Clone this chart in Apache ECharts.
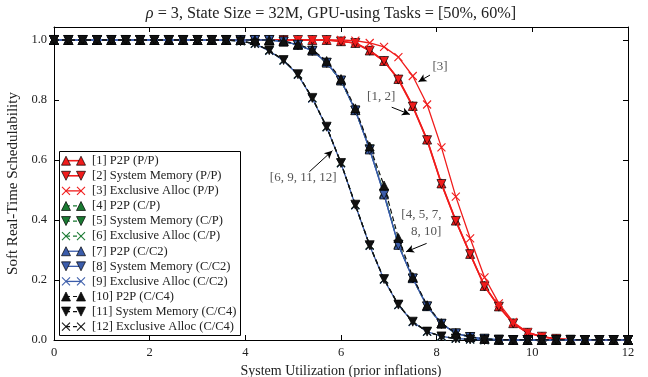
<!DOCTYPE html>
<html><head><meta charset="utf-8">
<script src="https://cdn.jsdelivr.net/npm/echarts@6/dist/echarts.min.js"></script>
<style>html,body{margin:0;padding:0;background:#fff}#c{width:648px;height:377px}</style>
</head><body><div id="c"></div>
<script>
// ---------- DATA ----------
const xValues = [0,0.3,0.6,0.9,1.2,1.5,1.8,2.1,2.4,2.7,
  3.0,3.3,3.6,3.9,4.2,4.5,4.8,5.1,5.4,5.7,
  6.0,6.3,6.6,6.9,7.2,7.5,7.8,8.1,8.4,8.7,
  9.0,9.3,9.6,9.9,10.2,10.5,10.8,11.1,11.4,11.7,
  12.0];

const seriesNames = ['[1] P2P (P/P)','[2] System Memory (P/P)','[3] Exclusive Alloc (P/P)',
  '[4] P2P (C/P)','[5] System Memory (C/P)','[6] Exclusive Alloc (C/P)',
  '[7] P2P (C/C2)','[8] System Memory (C/C2)','[9] Exclusive Alloc (C/C2)',
  '[10] P2P (C/C4)','[11] System Memory (C/C4)','[12] Exclusive Alloc (C/C4)'];

const s1 = [1,1,1,1,1,1,1,1,1,1, 1,1,1,1,1,1,1,1,1,1,
  0.996,0.99,0.965,0.93,0.87,0.78,0.668,0.522,0.398,0.287,
  0.18,0.112,0.056,0.024,0.011,0.004,0.001,0,0,0, 0];
const s2 = [1,1,1,1,1,1,1,1,1,1, 1,1,1,1,1,1,1,1,1,1,
  0.995,0.99,0.964,0.93,0.868,0.778,0.666,0.52,0.397,0.286,
  0.179,0.111,0.055,0.024,0.011,0.004,0.001,0,0,0, 0];
const s3 = [1,1,1,1,1,1,1,1,1,1, 1,1,1,1,1,1,1,1,1,1,
  1,0.998,0.99,0.977,0.943,0.88,0.785,0.642,0.478,0.339,
  0.209,0.122,0.06,0.026,0.011,0.004,0.001,0,0,0, 0];
const s4 = [1,1,1,1,1,1,1,1,1,1, 1,1,1,1,1,1,0.995,0.984,0.965,0.925,
  0.865,0.767,0.638,0.49,0.32,0.207,0.113,0.055,0.022,0.01,
  0.004,0.001,0,0,0,0,0,0,0,0, 0];
const s5 = [1,1,1,1,1,1,1,1,1,1, 1,1,1,1,1,1,0.995,0.983,0.964,0.924,
  0.864,0.765,0.636,0.488,0.318,0.205,0.112,0.054,0.022,0.01,
  0.004,0.001,0,0,0,0,0,0,0,0, 0];
const s6 = [1,1,1,1,1,1,1,1,1,1, 1,1,1,0.996,0.988,0.965,0.932,0.885,0.806,0.71,
  0.59,0.45,0.315,0.202,0.117,0.061,0.028,0.012,0.005,0.002,
  0,0,0,0,0,0,0,0,0,0, 0];
const s7 = [1,1,1,1,1,1,1,1,1,1, 1,1,1,1,1,1,0.995,0.984,0.965,0.925,
  0.866,0.766,0.635,0.485,0.317,0.206,0.113,0.055,0.022,0.01,
  0.004,0.001,0,0,0,0,0,0,0,0, 0];
const s8 = [1,1,1,1,1,1,1,1,1,1, 1,1,1,1,1,1,0.995,0.984,0.964,0.924,
  0.865,0.765,0.634,0.484,0.316,0.205,0.112,0.054,0.022,0.01,
  0.004,0.001,0,0,0,0,0,0,0,0, 0];
const s9 = [1,1,1,1,1,1,1,1,1,1, 1,1,1,0.996,0.987,0.964,0.931,0.884,0.805,0.709,
  0.589,0.449,0.314,0.201,0.116,0.06,0.028,0.012,0.005,0.002,
  0,0,0,0,0,0,0,0,0,0, 0];
const s10 = [1,1,1,1,1,1,1,1,1,1, 1,1,1,1,1,1,0.996,0.986,0.968,0.93,
  0.87,0.772,0.645,0.515,0.34,0.21,0.116,0.056,0.023,0.011,
  0.004,0.001,0,0,0,0,0,0,0,0, 0];
const s11 = [1,1,1,1,1,1,1,1,1,1, 1,1,1,0.996,0.988,0.966,0.933,0.886,0.807,0.711,
  0.59,0.451,0.316,0.203,0.118,0.061,0.028,0.012,0.005,0.002,
  0,0,0,0,0,0,0,0,0,0, 0];
const s12 = [1,1,1,1,1,1,1,1,1,1, 1,1,1,0.996,0.988,0.965,0.932,0.885,0.806,0.71,
  0.59,0.45,0.315,0.202,0.117,0.061,0.028,0.012,0.005,0.002,
  0,0,0,0,0,0,0,0,0,0, 0];

const xTickValues = [0,2,4,6,8,10,12];
const yTickValues = [0,0.2,0.4,0.6,0.8,1.0];

// annotations (data coordinates)
const annoTexts = ['[3]','[1, 2]','[6, 9, 11, 12]','[4, 5, 7,','8, 10]'];
const annoTextAt = [[8.07,0.91],[6.84,0.813],[5.21,0.543],[7.68,0.417],[7.78,0.36]];
const annoArrowFrom = [[7.86,0.883],[7.06,0.776],[5.34,0.561],[7.79,0.322]];
const annoArrowTo = [[7.62,0.861],[7.44,0.752],[5.82,0.631],[7.36,0.294]];

// ---------- STYLE ----------
const allData = [s1,s2,s3,s4,s5,s6,s7,s8,s9,s10,s11,s12];
const RED='#f01c1c', GREEN='#1a7a32', BLUE='#3b5caa', BLACK='#111111';
const styleDefs = [
  {c:RED,m:'up',d:'solid',w:1.6},{c:RED,m:'down',d:'solid',w:1.6},{c:RED,m:'x',d:'solid',w:1.3},
  {c:GREEN,m:'up',d:[5,3],w:1.2},{c:GREEN,m:'down',d:[5,3],w:1.2},{c:GREEN,m:'x',d:[5,3],w:1.2},
  {c:BLUE,m:'up',d:'solid',w:1.3},{c:BLUE,m:'down',d:'solid',w:1.3},{c:BLUE,m:'x',d:'solid',w:1.3},
  {c:BLACK,m:'up',d:[5,3],w:1.2},{c:BLACK,m:'down',d:[5,3],w:1.2},{c:BLACK,m:'x',d:[5,3],w:1.2}
];
const SERIF = "'Liberation Serif','DejaVu Serif',serif";
const XPATH = 'path://M0,0L10,10M10,0L0,10';

const series = allData.map((arr,i)=>{
  const st = styleDefs[i];
  const isX = st.m==='x';
  return {
    type:'line', name:seriesNames[i], z:2+i,
    data: arr.map((v,k)=>[xValues[k], v]),
    symbol: isX ? XPATH : 'triangle',
    symbolRotate: st.m==='down' ? 180 : 0,
    symbolSize: isX ? 8 : 9,
    showSymbol:true, showAllSymbol:true, clip:true,
    lineStyle:{color:st.c, width:st.w, type:st.d},
    itemStyle: isX ? {color:st.c, borderColor:st.c, borderWidth:1.1}
                   : {color:st.c, borderColor:'#000', borderWidth:0.7},
    emphasis:{disabled:true}, silent:true
  };
});

// annotation series
series.push({
  type:'line', data:[], silent:true, z:30,
  markLine:{silent:true, symbol:['none','arrow'], symbolSize:[6,8], animation:false,
    lineStyle:{color:'#000', width:1, type:'solid'}, label:{show:false},
    data: annoArrowFrom.map((f,i)=>[{coord:f},{coord:annoArrowTo[i]}])},
  markPoint:{silent:true, animation:false,
    data: annoTexts.map((t,i)=>({coord:annoTextAt[i], symbol:'circle', symbolSize:0,
      itemStyle:{color:'transparent'},
      label:{show:true, position:'inside', formatter:t, color:'#555', fontFamily:SERIF, fontSize:13}}))}
});

const isTick = (v, arr) => arr.some(t=>Math.abs(t-v)<1e-6);
const axisLineStyle = {show:true, onZero:false, lineStyle:{color:'#000', width:1}};
const tickStyle = {show:true, inside:true, length:5, lineStyle:{color:'#000', width:1}};

const option = {
  animation:false,
  backgroundColor:'#fff',
  title:{text:'{i|ρ} = 3, State Size = 32M, GPU-using Tasks = [50%, 60%]', left:326, top:1, textAlign:'center',
    textStyle:{fontFamily:SERIF, fontSize:16.2, fontWeight:'normal', color:'#222',
      rich:{i:{fontFamily:SERIF, fontSize:16.2, fontStyle:'italic', color:'#222'}}}},
  grid:{left:54, right:20, top:27, bottom:37, show:false, containLabel:false, outerBoundsMode:'none'},
  xAxis:[
    {type:'value', min:0, max:12, interval:2, position:'bottom',
     axisLine:axisLineStyle, axisTick:tickStyle, splitLine:{show:false},
     axisLabel:{color:'#222', fontFamily:SERIF, fontSize:12.5, margin:6,
       formatter:v=>isTick(v,xTickValues)?String(v):''},
     name:'System Utilization (prior inflations)', nameLocation:'middle', nameGap:16,
     nameTextStyle:{fontFamily:SERIF, fontSize:14, color:'#222'}},
    {type:'value', min:0, max:12, interval:2, position:'top',
     axisLine:axisLineStyle, axisTick:tickStyle, splitLine:{show:false}, axisLabel:{show:false}}
  ],
  yAxis:[
    {type:'value', min:0, max:1.0433, interval:0.2, position:'left',
     axisLine:axisLineStyle, axisTick:tickStyle, splitLine:{show:false},
     axisLabel:{color:'#222', fontFamily:SERIF, fontSize:12.5, margin:7,
       formatter:v=>isTick(v,yTickValues)?v.toFixed(1):''},
     name:'Soft Real-Time Schedulability', nameLocation:'middle', nameGap:32, nameRotate:90,
     nameTextStyle:{fontFamily:SERIF, fontSize:15, color:'#222'}},
    {type:'value', min:0, max:1.0433, interval:0.2, position:'right',
     axisLine:axisLineStyle, axisTick:tickStyle, splitLine:{show:false}, axisLabel:{show:false}}
  ],
  series: series
};

// legend drawn as graphic (matplotlib style: two markers joined by a line)
const LX0=59.5, LY0=151.5, LW=181, LH=184;
const legendEls = [{type:'rect', shape:{x:LX0,y:LY0,width:LW,height:LH},
  style:{fill:'#fff', stroke:'#000', lineWidth:1}, z:100}];
function markerEl(m, cx, cy, color){
  if(m==='x'){
    return {type:'polyline', shape:{points:[[cx-4,cy-4],[cx+4,cy+4]]}, style:{stroke:color,lineWidth:1.1,fill:null}, z:102};
  }
  const h=4.5;
  const pts = m==='up' ? [[cx,cy-h],[cx+h,cy+h],[cx-h,cy+h]] : [[cx,cy+h],[cx+h,cy-h],[cx-h,cy-h]];
  return {type:'polygon', shape:{points:pts}, style:{fill:color, stroke:'#000', lineWidth:0.7}, z:102};
}
seriesNames.forEach((nm,i)=>{
  const st = styleDefs[i];
  const cy = 160.7 + i*15.09;
  const xa = 66, xb = 81;
  legendEls.push({type:'line', shape:{x1:xa,y1:cy,x2:xb,y2:cy},
    style:{stroke:st.c, lineWidth:st.w, lineDash: st.d==='solid'?null:[4,3]}, z:101});
  [xa,xb].forEach(cx=>{
    legendEls.push(markerEl(st.m,cx,cy,st.c));
    if(st.m==='x') legendEls.push({type:'polyline', shape:{points:[[cx+4,cy-4],[cx-4,cy+4]]}, style:{stroke:st.c,lineWidth:1.1,fill:null}, z:102});
  });
  legendEls.push({type:'text', x:92, y:cy, style:{text:nm, fill:'#222', font:"12.5px "+SERIF, textVerticalAlign:'middle', verticalAlign:'middle'}, z:103});
});
option.graphic = legendEls;

const chart = echarts.init(document.getElementById('c'));
chart.setOption(option);
</script>
</body></html>
